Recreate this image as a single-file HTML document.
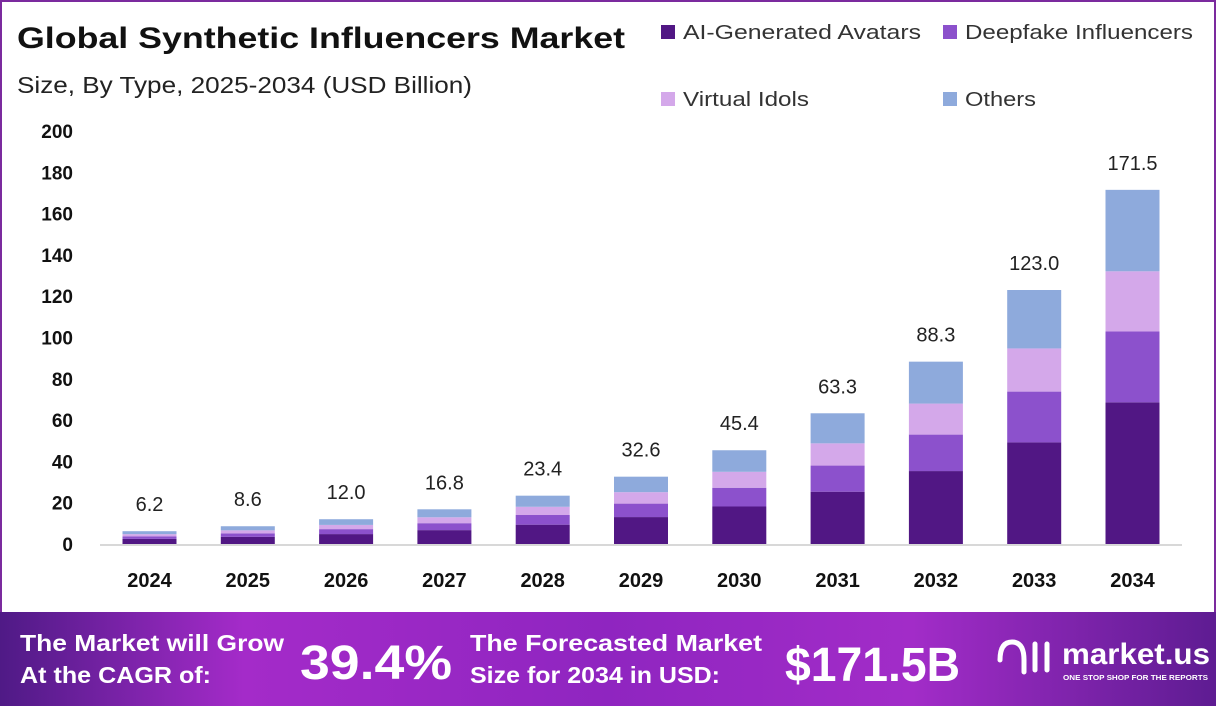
<!DOCTYPE html>
<html><head><meta charset="utf-8"><style>
html,body{margin:0;padding:0;background:#fff}
body{width:1216px;height:706px;overflow:hidden;position:relative;font-family:"Liberation Sans",sans-serif}
</style></head><body>
<svg id="s" width="1216" height="706" xmlns="http://www.w3.org/2000/svg" style="position:absolute;left:0;top:0">
<defs>
<linearGradient id="bg" x1="0" x2="1" y1="0" y2="0">
<stop offset="0" stop-color="#4f1a86"/><stop offset="0.2" stop-color="#a42bc9"/><stop offset="0.5" stop-color="#8f25c0"/><stop offset="0.75" stop-color="#a22cc8"/><stop offset="1" stop-color="#5e1c92"/>
</linearGradient>
</defs>
<rect x="1" y="1" width="1214" height="704" fill="#fff" stroke="#7b2a9e" stroke-width="2"/>
<text x="17" y="48" font-size="30" font-weight="bold" fill="#111" textLength="608" lengthAdjust="spacingAndGlyphs">Global Synthetic Influencers Market</text>
<text x="17" y="93" font-size="23" fill="#222" textLength="455" lengthAdjust="spacingAndGlyphs">Size, By Type, 2025-2034 (USD Billion)</text>
<rect x="661" y="25" width="14" height="14" fill="#511784"/><text x="683" y="39" font-size="20" fill="#333" textLength="238" lengthAdjust="spacingAndGlyphs">AI-Generated Avatars</text>
<rect x="943" y="25" width="14" height="14" fill="#8c51cc"/><text x="965" y="39" font-size="20" fill="#333" textLength="228" lengthAdjust="spacingAndGlyphs">Deepfake Influencers</text>
<rect x="661" y="92" width="14" height="14" fill="#d4a8ea"/><text x="683" y="106" font-size="20" fill="#333" textLength="126" lengthAdjust="spacingAndGlyphs">Virtual Idols</text>
<rect x="943" y="92" width="14" height="14" fill="#8eaadc"/><text x="965" y="106" font-size="20" fill="#333" textLength="71" lengthAdjust="spacingAndGlyphs">Others</text>
<line x1="100" y1="545" x2="1182" y2="545" stroke="#d8d8d8" stroke-width="2"/>
<g id="g"></g>
<rect x="0" y="612" width="1216" height="94" fill="url(#bg)"/>
<g font-weight="bold" fill="#fff">
<text x="20" y="651" font-size="23" textLength="264" lengthAdjust="spacingAndGlyphs">The Market will Grow</text>
<text x="20" y="683" font-size="23" textLength="191" lengthAdjust="spacingAndGlyphs">At the CAGR of:</text>
<text x="300" y="679" font-size="48" textLength="152" lengthAdjust="spacingAndGlyphs">39.4%</text>
<text x="470" y="651" font-size="23" textLength="292" lengthAdjust="spacingAndGlyphs">The Forecasted Market</text>
<text x="470" y="683" font-size="23" textLength="250" lengthAdjust="spacingAndGlyphs">Size for 2034 in USD:</text>
<text x="785" y="681" font-size="48" textLength="175" lengthAdjust="spacingAndGlyphs">$171.5B</text>
<text x="1062" y="664" font-size="30" textLength="148" lengthAdjust="spacingAndGlyphs">market.us</text>
<text x="1063" y="680" font-size="7" textLength="145" lengthAdjust="spacingAndGlyphs">ONE STOP SHOP FOR THE REPORTS</text>
</g>
<g fill="none" stroke="#fff" stroke-width="5" stroke-linecap="round">
<path d="M1000 660 q0 -18 12 -18 q12 0 12 18 v12"/>
<line x1="1035" y1="644" x2="1035" y2="670"/><line x1="1047" y1="644" x2="1047" y2="670"/>
</g>
</svg>
<script>
var g=document.getElementById('g'),ns='http://www.w3.org/2000/svg';
var T=[6.2,8.6,12.0,16.8,23.4,32.6,45.4,63.3,88.3,123.0,171.5];
var fr=[0.40,0.20,0.17,0.23],col=['#511784','#8c51cc','#d4a8ea','#8eaadc'];
var base=544,k=2.065;
function el(n,a,t){var e=document.createElementNS(ns,n);for(var i in a)e.setAttribute(i,a[i]);if(t!=null)e.textContent=t;g.appendChild(e);return e;}
for(var v=0;v<=200;v+=20){el('text',{x:73,y:base-v*k+7,'font-size':19,'font-weight':'bold','text-anchor':'end',fill:'#111'},v);}
for(var i=0;i<T.length;i++){
 var c=149.5+98.3*i,y=base;
 for(var j=0;j<4;j++){var h=T[i]*fr[j]*k;y-=h;el('rect',{x:c-27,y:y,width:54,height:h,fill:col[j]});}
 el('text',{x:c,y:base-T[i]*k-20,'font-size':20,'text-anchor':'middle',fill:'#222'},T[i].toFixed(1));
 el('text',{x:c,y:587,'font-size':20,'font-weight':'bold','text-anchor':'middle',fill:'#111'},2024+i);
}
</script>
</body></html>
